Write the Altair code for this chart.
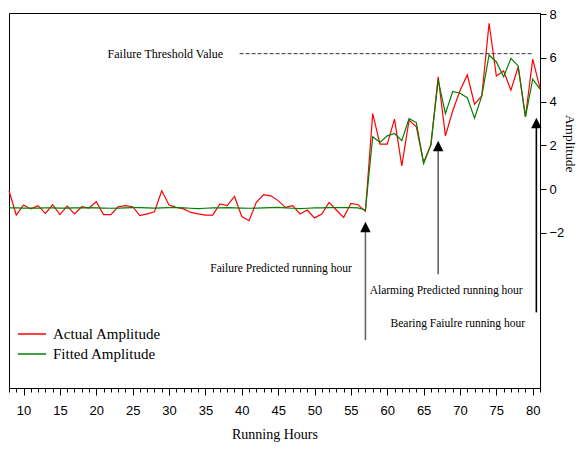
import altair as alt
import pandas as pd

hours = list(range(8, 82))
actual = [-0.08, -1.19, -0.73, -0.91, -0.76, -1.11, -0.72, -1.17, -0.78, -1.14,
          -0.81, -0.87, -0.58, -1.17, -1.17, -0.81, -0.76, -0.81, -1.22, -1.14,
          -1.04, -0.08, -0.73, -0.84, -0.91, -1.07, -1.14, -1.19, -1.19, -0.68,
          -0.76, -0.34, -1.26, -1.45, -0.61, -0.26, -0.31, -0.53, -0.84, -0.76,
          -1.14, -0.96, -1.32, -1.14, -0.61, -0.96, -1.30, -0.66, -0.72, -1.02,
          3.45, 2.05, 2.05, 3.20, 1.06, 3.15, 2.84, 1.21, 2.02, 5.13,
          2.43, 3.58, 4.49, 5.22, 3.88, 4.26, 7.58, 5.17, 5.40, 4.52,
          5.58, 3.30, 5.94, 4.61]
fitted = [-0.86, -0.86, -0.87, -0.87, -0.87, -0.86, -0.86, -0.87, -0.87, -0.86,
          -0.86, -0.85, -0.86, -0.87, -0.88, -0.87, -0.86, -0.85, -0.85, -0.86,
          -0.87, -0.86, -0.85, -0.85, -0.86, -0.88, -0.90, -0.88, -0.86, -0.86,
          -0.85, -0.86, -0.87, -0.88, -0.87, -0.86, -0.85, -0.84, -0.86, -0.88,
          -0.90, -0.88, -0.86, -0.86, -0.85, -0.85, -0.85, -0.85, -0.86, -0.96,
          2.39, 2.13, 2.43, 2.54, 2.21, 3.22, 3.04, 1.17, 2.02, 4.98,
          3.45, 4.46, 4.38, 4.18, 3.24, 4.26, 6.13, 5.81, 5.13, 5.98,
          5.63, 3.30, 5.02, 4.57]
series_names = ["Actual Amplitude", "Fitted Amplitude"]
series_colors = ["#ff0000", "#008000"]

threshold_value = 6.19
threshold_start = 39.7
threshold_end = 79.9
threshold_label = "Failure Threshold Value"

arrow_hours = [57, 67, 80.5]
arrow_heads = [-1.74, 1.97, 3.02]
arrow_tails = [-6.91, -3.90, -5.64]
arrow_colors = ["#666666", "#666666", "#000000"]

note_texts = ["Failure Predicted running hour", "Alarming Predicted running hour",
              "Bearing Faiulre running hour"]
note_x = [45.4, 68.1, 69.7]
note_y = [-3.67, -4.67, -6.18]

y_ticks = [-2, 0, 2, 4, 6, 8]

df = pd.DataFrame({
    "hour": hours + hours,
    "value": actual + fitted,
    "series": [series_names[0]] * len(hours) + [series_names[1]] * len(hours),
})
thr_df = pd.DataFrame({"x": [threshold_start], "x2": [threshold_end], "y": [threshold_value]})
thr_text_df = pd.DataFrame({"x": [29.5], "y": [6.16], "t": [threshold_label]})
arrow_df = pd.DataFrame({"x": arrow_hours, "head": arrow_heads, "tail": arrow_tails, "c": arrow_colors})
note_df = pd.DataFrame({"x": note_x, "y": note_y, "t": note_texts})

x_scale = alt.Scale(domain=[8, 81], nice=False, zero=False)
y_scale = alt.Scale(domain=[-9.1, 8.05], nice=False, zero=False)

SERIF = "Liberation Serif"
SANS = "Liberation Sans"

x_axis = alt.Axis(orient="bottom", values=hours, tickCount=200, format="d",
                  title="Running Hours", grid=False,
                  tickSize={"condition": {"test": "datum.value % 5 === 0", "value": 7}, "value": 4},
                  labelExpr="datum.value % 5 === 0 ? datum.label : ''",
                  labelOverlap=False, labelFlush=False,
                  tickColor="black", domainColor="black", labelColor="black",
                  labelFont=SANS, labelFontSize=13, labelPadding=9,
                  titleFont=SERIF, titleFontSize=14, titleFontWeight="normal",
                  titleColor="black", titlePadding=10)
y_axis = alt.Axis(orient="right", values=y_ticks, format="d", title="Amplitude", grid=False,
                  tickSize=6, tickColor="black", domainColor="black", labelColor="black",
                  labelFont=SANS, labelFontSize=13, labelPadding=3,
                  titleFont=SERIF, titleFontSize=13.5, titleFontWeight="normal",
                  titleColor="black", titleAngle=90, titleX=29, titleY=130,
                  titleAlign="center", titleBaseline="middle")

lines = alt.Chart(df).mark_line(strokeWidth=1.2).encode(
    x=alt.X("hour:Q", scale=x_scale, axis=x_axis),
    y=alt.Y("value:Q", scale=y_scale, axis=y_axis),
    color=alt.Color("series:N",
                    scale=alt.Scale(domain=series_names, range=series_colors),
                    legend=alt.Legend(orient="none", legendX=8, legendY=313, title=None,
                                      symbolType="stroke", symbolSize=784,
                                      symbolStrokeWidth=1.5, labelFont=SERIF,
                                      labelFontSize=15, labelColor="black",
                                      labelOffset=6, rowPadding=4, clipHeight=16,
                                      padding=0)),
)

thr = alt.Chart(thr_df).mark_rule(strokeDash=[4, 2], color="#333333", strokeWidth=1).encode(
    x=alt.X("x:Q", scale=x_scale), x2="x2:Q",
    y=alt.Y("y:Q", scale=y_scale))

thr_text = alt.Chart(thr_text_df).mark_text(font=SERIF, fontSize=12, color="black",
                                            baseline="middle").encode(
    x=alt.X("x:Q", scale=x_scale), y=alt.Y("y:Q", scale=y_scale), text="t:N")

shafts = alt.Chart(arrow_df).mark_rule(strokeWidth=1.6).encode(
    x=alt.X("x:Q", scale=x_scale), y=alt.Y("head:Q", scale=y_scale), y2="tail:Q",
    color=alt.Color("c:N", scale=None))

heads = alt.Chart(arrow_df).mark_point(shape="M0,-1L1,1L-1,1Z", size=110, filled=True,
                                       color="black", opacity=1).encode(
    x=alt.X("x:Q", scale=x_scale), y=alt.Y("head:Q", scale=y_scale))

notes = alt.Chart(note_df).mark_text(font=SERIF, fontSize=11.5, color="black",
                                     baseline="middle").encode(
    x=alt.X("x:Q", scale=x_scale), y=alt.Y("y:Q", scale=y_scale), text="t:N")

chart = alt.layer(lines, thr, thr_text, shafts, heads, notes).properties(
    width=531, height=375,
    padding={"left": 1, "top": 5, "right": 37, "bottom": 56},
    autosize=alt.AutoSizeParams(type="none"),
).configure_view(stroke="black", strokeWidth=1)

chart.save("out.html", embed_options={"renderer": "svg", "actions": False})
